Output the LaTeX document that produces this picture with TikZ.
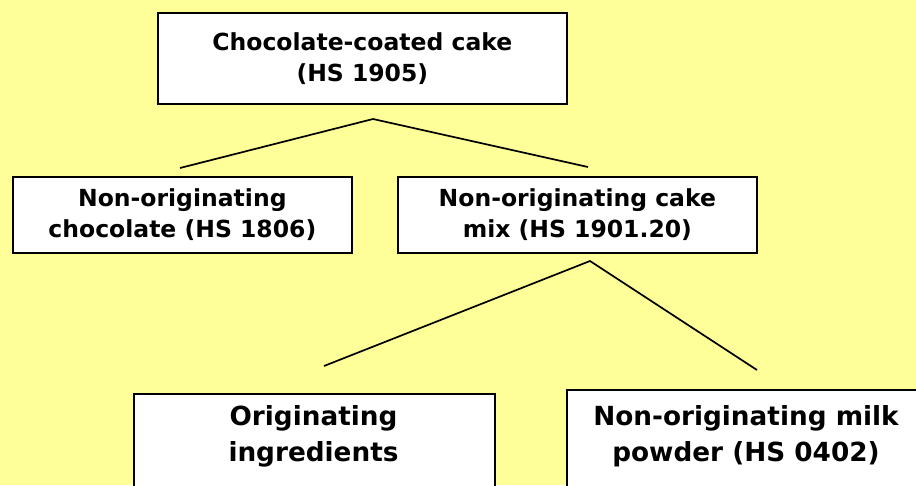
\documentclass[tikz,border=0pt]{standalone}
\usepackage{fontspec}
\setmainfont{DejaVu Sans}
\definecolor{bg}{HTML}{FFFF99}
\begin{document}
\begin{tikzpicture}[x=1pt,y=-1pt,
  box/.style={draw=black, line width=1.7pt, fill=white, inner sep=0pt, anchor=north west, align=center},
  upper/.style={font=\bfseries\fontsize{23.5}{31}\selectfont},
  lower/.style={font=\bfseries\fontsize{26.3}{36}\selectfont, align=center},
  conn/.style={line width=1.7pt}]
\useasboundingbox (0,0) rectangle (916,485);
\fill[bg] (0,0) rectangle (916,485);
\begin{scope}
\clip (0,0) rectangle (916,485);
% top box
\node[box, upper, minimum width=409pt, minimum height=91pt] (cake) at (157,12) {Chocolate-coated cake\\(HS 1905)};
% middle boxes
\node[box, upper, minimum width=339pt, minimum height=76pt] (choc) at (12,176) {Non-originating\\chocolate (HS 1806)};
\node[box, upper, minimum width=359pt, minimum height=76pt] (mix) at (397,176) {Non-originating cake\\mix (HS 1901.20)};
% bottom boxes
\node[box, minimum width=361pt, minimum height=130pt] (orig) at (133,393) {};
\node[lower] (origtxt) at (313.5,436) {Originating\\ingredients};
\node[box, minimum width=370pt, minimum height=130pt] (milk) at (566,389) {};
\node[lower] (milktxt) at (746,436) {Non-originating milk\\powder (HS 0402)};
% connectors
\coordinate (a1) at (373,119);
\coordinate (l1) at (180,168);
\coordinate (r1) at (588,167);
\coordinate (a2) at (590,261);
\coordinate (l2) at (324,366);
\coordinate (r2) at (757,370);
\draw[conn] (l1) -- (a1) -- (r1);
\draw[conn] (l2) -- (a2) -- (r2);
\end{scope}
\end{tikzpicture}
\end{document}
